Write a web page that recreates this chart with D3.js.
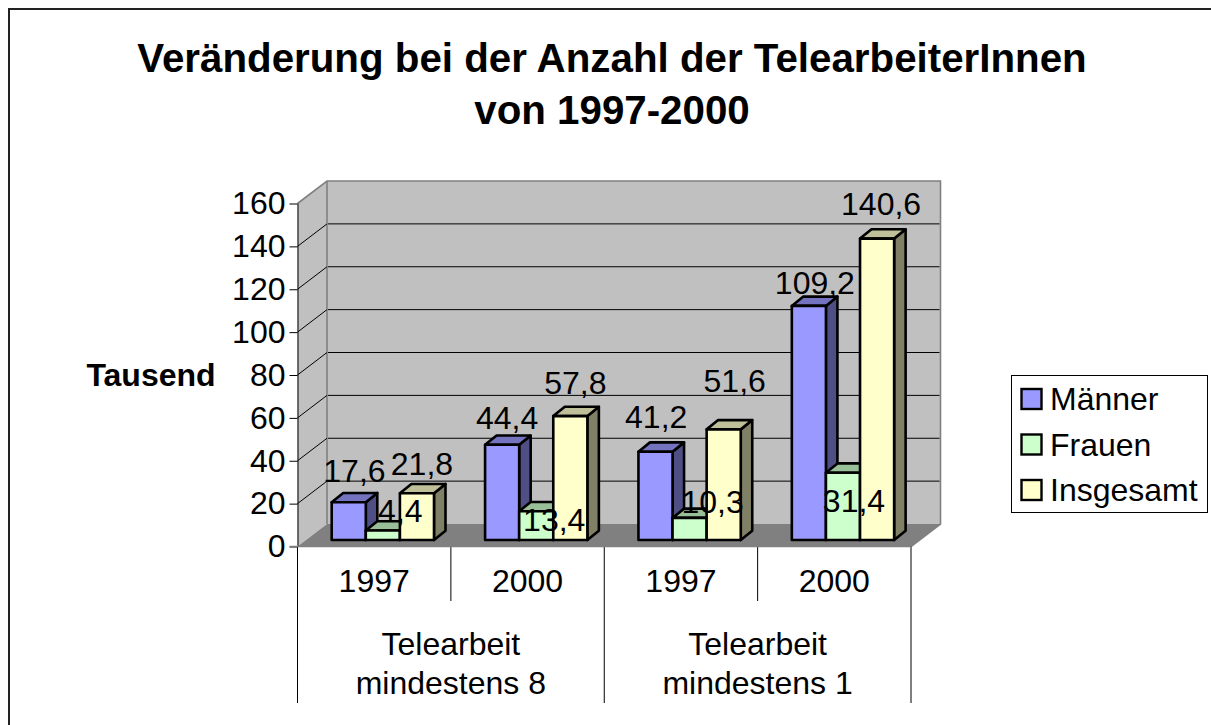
<!DOCTYPE html>
<html><head><meta charset="utf-8">
<script src="https://cdnjs.cloudflare.com/ajax/libs/d3/7.8.5/d3.min.js"></script>
<style>html,body{margin:0;padding:0;background:#fff}svg{display:block}text{font-family:"Liberation Sans",Arial,sans-serif;fill:#000}</style>
</head><body><svg id="c" width="1211" height="725"></svg>
<script>
const titleLines = ["Veränderung bei der Anzahl der TelearbeiterInnen", "von 1997-2000"];
const yAxisTitle = "Tausend";
const yTicks = [0,20,40,60,80,100,120,140,160];
const categories = ["a1997","a2000","b1997","b2000"];
const categoryLabels = ["1997","2000","1997","2000"];
const groups = [["Telearbeit","mindestens 8"],["Telearbeit","mindestens 1"]];
const seriesNames = ["Männer","Frauen","Insgesamt"];
const maenner = [17.6,44.4,41.2,109.2];
const frauen = [4.4,13.4,10.3,31.4];
const insgesamt = [21.8,57.8,51.6,140.6];
const seriesValues = [maenner,frauen,insgesamt];
const frontColors = ["#9999ff","#ccffcc","#ffffcc"];
const topColors = ["#7373bf","#99bf99","#bfbf99"];
const sideColors = ["#4f4f85","#6b856b","#808066"];
// data-label nudges relative to each bar's top centre, per series then category
const labelNudgeX = [[5.7,5,0.7,6],[17.5,18,23,11],[5,5,11,4]];
const labelNudgeY = [[-20,-16,-24,-12],[-9,20,-5,39],[-18,-22,-37,-24]];

const svg = d3.select("#c");
const fmt = v => String(v.toFixed(1)).replace(".",",");
const x = d3.scaleBand().domain(categories).range([297.5,911]);
const xs = d3.scaleBand().domain(seriesNames).range([0,102.3]);
const y = d3.scaleLinear().domain([0,160]).range([546.5,203.5]);
const dxW=29.5, dyW=22.5;
const dxB=11.5, dyB=9.3;
const barInset=34.2, barLift=6.5;
const L=x.range()[0], R=x.range()[1], y0=y(0), yT=y(160);
const FS=32;

svg.append("rect").attr("x",9).attr("y",9).attr("width",1400).attr("height",1000).attr("fill","#fff").attr("stroke","#222").attr("stroke-width",2);

const poly=(pts,f,s,w)=>svg.append("polygon").attr("points",pts.map(p=>p.join(",")).join(" ")).attr("fill",f).attr("stroke",s||"none").attr("stroke-width",w||0).attr("stroke-linejoin","round");
poly([[L,y0],[L,yT],[L+dxW,yT-dyW],[L+dxW,y0-dyW]],"#c0c0c0");
poly([[L+dxW,y0-dyW],[L+dxW,yT-dyW],[R+dxW,yT-dyW],[R+dxW,y0-dyW]],"#c0c0c0");
poly([[L,y0],[L+dxW,y0-dyW],[R+dxW,y0-dyW],[R,y0]],"#808080");
svg.append("path").attr("d",`M${L},${yT}L${L+dxW},${yT-dyW}L${R+dxW},${yT-dyW}L${R+dxW},${y0-dyW}L${R},${y0}`).attr("fill","none").attr("stroke","#808080").attr("stroke-width",1.6);
svg.append("line").attr("x1",L+dxW).attr("x2",L+dxW).attr("y1",yT-dyW).attr("y2",y0-dyW).attr("stroke","#808080").attr("stroke-width",1.6);

yTicks.slice(1,-1).forEach(t=>{
  svg.append("line").attr("x1",L+dxW+1).attr("x2",R+dxW-1).attr("y1",y(t)-dyW).attr("y2",y(t)-dyW).attr("stroke","#000").attr("stroke-width",1);
  svg.append("line").attr("x1",L).attr("x2",L+dxW).attr("y1",y(t)).attr("y2",y(t)-dyW).attr("stroke","#000").attr("stroke-width",1);
});

const ya=svg.append("g").attr("transform",`translate(${L},0)`).call(d3.axisLeft(y).tickValues(yTicks).tickSize(8).tickPadding(4));
ya.select(".domain").attr("stroke","#000").attr("stroke-width",1).attr("d",`M0.5,${yT}V${y0}`);
ya.selectAll("line").attr("stroke","#000").attr("stroke-width",1);
ya.selectAll("text").attr("font-size",FS).style("font-family",'"Liberation Sans"');

const axisLines=[[L,y0,L,703],[R,y0,R,703],[L+2*x.step(),y0,L+2*x.step(),703],[x(categories[1]),y0,x(categories[1]),601],[x(categories[3]),y0,x(categories[3]),601]];
axisLines.forEach(a=>svg.append("line").attr("x1",a[0]).attr("y1",a[1]).attr("x2",a[2]).attr("y2",a[3]).attr("stroke","#000").attr("stroke-width",1));
svg.append("line").attr("x1",L-8).attr("x2",R).attr("y1",y0).attr("y2",y0).attr("stroke","#808080").attr("stroke-width",1.6);

categories.forEach((c,ci)=>{
  seriesNames.forEach((s,si)=>{
    const v=seriesValues[si][ci];
    const xa=x(c)+barInset+xs(s), xb=xa+xs.bandwidth();
    const yb=y(0)-barLift, yt=y(v)-barLift;
    const sw=2.6;
    poly([[xb,yb],[xb,yt],[xb+dxB,yt-dyB],[xb+dxB,yb-dyB]],sideColors[si],"#000",sw);
    poly([[xa,yt],[xa+dxB,yt-dyB],[xb+dxB,yt-dyB],[xb,yt]],topColors[si],"#000",sw);
    poly([[xa,yb],[xa,yt],[xb,yt],[xb,yb]],frontColors[si],"#000",sw);
  });
});

categories.forEach((c,ci)=>{
  seriesNames.forEach((s,si)=>{
    const v=seriesValues[si][ci];
    svg.append("text").attr("x",x(c)+barInset+xs(s)+xs.bandwidth()/2+labelNudgeX[si][ci]).attr("y",y(v)-barLift+labelNudgeY[si][ci]).attr("text-anchor","middle").attr("font-size",FS).text(fmt(v));
  });
});

categories.forEach((c,i)=>svg.append("text").attr("x",x(c)+x.bandwidth()/2).attr("y",592).attr("text-anchor","middle").attr("font-size",FS).text(categoryLabels[i]));
groups.forEach((g,i)=>g.forEach((t,j)=>svg.append("text").attr("x",L+x.step()*(2*i+1)).attr("y",655+j*38.5).attr("text-anchor","middle").attr("font-size",FS).text(t)));

titleLines.forEach((t,i)=>svg.append("text").attr("x",612).attr("y",72+i*51.5).attr("text-anchor","middle").attr("font-weight","bold").attr("font-size",40.3).text(t));
svg.append("text").attr("x",151).attr("y",386).attr("text-anchor","middle").attr("font-weight","bold").attr("font-size",FS).text(yAxisTitle);

svg.append("rect").attr("x",1011.5).attr("y",375.5).attr("width",196).attr("height",137).attr("fill","#fff").attr("stroke","#000");
seriesNames.forEach((s,i)=>{
  const yy=399+i*45.5;
  svg.append("rect").attr("x",1021.5).attr("y",yy-10).attr("width",20).attr("height",20).attr("fill",frontColors[i]).attr("stroke","#000").attr("stroke-width",2.4);
  svg.append("text").attr("x",1050).attr("y",yy+11).attr("font-size",FS).text(s);
});
</script></body></html>
